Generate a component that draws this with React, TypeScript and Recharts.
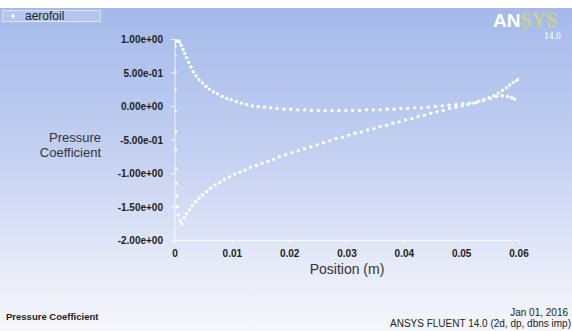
import React from 'react';
import { ScatterChart, Scatter, XAxis, YAxis, ZAxis } from 'recharts';

// Branch running from the stagnation point along the upper curve (pressure side)
const branchAPos = [
  0.0001, 0.0003, 0.0005, 0.0008, 0.0011, 0.0014, 0.0017, 0.0020, 0.0024, 0.0028,
  0.0032, 0.0037, 0.0042, 0.0048, 0.0054, 0.0060, 0.0067, 0.0074, 0.0082, 0.0090,
  0.0098, 0.0107, 0.0116, 0.0125, 0.0135, 0.0145, 0.0156, 0.0167, 0.0178, 0.0190,
  0.0202, 0.0214, 0.0226, 0.0238, 0.0250, 0.0262, 0.0274, 0.0286, 0.0298, 0.0310,
  0.0322, 0.0334, 0.0346, 0.0358, 0.0370, 0.0382, 0.0394, 0.0406, 0.0418, 0.0430,
  0.0442, 0.0454, 0.0466, 0.0478, 0.0490, 0.0502, 0.0514, 0.0526, 0.0538, 0.0550,
  0.0561, 0.0571, 0.0580, 0.0587, 0.0592,
];
const branchACp = [
  0.97, 0.99, 0.99, 0.96, 0.91, 0.85, 0.79, 0.73, 0.66, 0.59,
  0.52, 0.46, 0.40, 0.35, 0.30, 0.26, 0.22, 0.19, 0.15, 0.12,
  0.10, 0.07, 0.05, 0.03, 0.01, 0.00, -0.01, -0.02, -0.03, -0.04,
  -0.04, -0.05, -0.05, -0.06, -0.06, -0.06, -0.06, -0.06, -0.06, -0.06,
  -0.06, -0.05, -0.05, -0.05, -0.04, -0.04, -0.03, -0.03, -0.02, -0.02,
  -0.01, 0.00, 0.01, 0.02, 0.03, 0.04, 0.05, 0.06, 0.09, 0.12,
  0.15, 0.16, 0.15, 0.13, 0.11,
];

// Branch running from the stagnation point down to the suction peak and back up
const branchBPos = [
  0.0000, 0.0000, 0.0000, 0.0000, 0.0000, 0.0001, 0.0001, 0.0001, 0.0002, 0.0003,
  0.0004, 0.0006, 0.0009, 0.0012, 0.0016, 0.0020, 0.0025, 0.0030, 0.0036, 0.0042,
  0.0048, 0.0055, 0.0062, 0.0070, 0.0078, 0.0086, 0.0095, 0.0104, 0.0113, 0.0122,
  0.0132, 0.0142, 0.0152, 0.0162, 0.0172, 0.0182, 0.0193, 0.0204, 0.0215, 0.0226,
  0.0237, 0.0248, 0.0259, 0.0270, 0.0281, 0.0292, 0.0303, 0.0314, 0.0325, 0.0336,
  0.0347, 0.0358, 0.0369, 0.0380, 0.0391, 0.0402, 0.0413, 0.0424, 0.0435, 0.0446,
  0.0457, 0.0468, 0.0479, 0.0490, 0.0501, 0.0511, 0.0521, 0.0530, 0.0539, 0.0548,
  0.0556, 0.0564, 0.0571, 0.0578, 0.0584, 0.0590, 0.0596, 0.0600,
];
const branchBCp = [
  0.90, 0.76, 0.52, 0.25, -0.06, -0.37, -0.64, -0.93, -1.15, -1.33,
  -1.50, -1.62, -1.71, -1.75, -1.66, -1.60, -1.54, -1.48, -1.42, -1.37,
  -1.32, -1.27, -1.22, -1.17, -1.13, -1.09, -1.05, -1.01, -0.98, -0.95,
  -0.91, -0.88, -0.85, -0.82, -0.79, -0.75, -0.72, -0.69, -0.66, -0.63,
  -0.60, -0.57, -0.54, -0.51, -0.48, -0.46, -0.43, -0.40, -0.38, -0.35,
  -0.33, -0.30, -0.28, -0.25, -0.23, -0.20, -0.18, -0.15, -0.13, -0.10,
  -0.08, -0.06, -0.03, -0.01, 0.01, 0.03, 0.05, 0.08, 0.10, 0.13,
  0.16, 0.20, 0.24, 0.28, 0.32, 0.36, 0.39, 0.41,
];

const xTicks = [0, 0.01, 0.02, 0.03, 0.04, 0.05, 0.06];
const xTickLabels = ['0', '0.01', '0.02', '0.03', '0.04', '0.05', '0.06'];
const yTicks = [-2, -1.5, -1, -0.5, 0, 0.5, 1];
const yTickLabels = ['-2.00e+00', '-1.50e+00', '-1.00e+00', '-5.00e-01', '0.00e+00', '5.00e-01', '1.00e+00'];

const seriesName = 'aerofoil';

const data = [
  ...branchAPos.map((x, i) => ({ x, y: branchACp[i] })),
  ...branchBPos.map((x, i) => ({ x, y: branchBCp[i] })),
];

const FONT = '"Liberation Sans", Arial, sans-serif';
const SERIF = '"Liberation Serif", "Times New Roman", serif';
const axisStroke = 'rgba(255,255,255,0.75)';

const Dot = (props: any) => {
  const { cx, cy } = props;
  if (cx == null || cy == null) return null;
  return <circle cx={cx} cy={cy} r={1.7} fill="#ffffff" />;
};

export default function App() {
  return (
    <div
      style={{
        position: 'absolute',
        left: 0,
        top: 0,
        width: 572,
        height: 331,
        overflow: 'hidden',
        background: '#ffffff',
        fontFamily: FONT,
      }}
    >
      <div
        style={{
          position: 'absolute',
          left: 0,
          top: 8,
          width: 572,
          height: 323,
          background: 'linear-gradient(to bottom, #a5baea 0%, #c3d0f1 45%, #e6ebf8 80%, #f6f7fc 100%)',
        }}
      />
      <div style={{ position: 'absolute', left: 0, top: 0 }}>
        <ScatterChart
          width={572}
          height={331}
          margin={{ top: 39.5, right: 53, bottom: 60.5, left: 0 }}
        >
          <XAxis
            type="number"
            dataKey="x"
            domain={[0, 0.06]}
            ticks={xTicks}
            allowDataOverflow
            height={30}
            tickSize={4}
            tickMargin={5}
            stroke={axisStroke}
            tickLine={{ stroke: axisStroke }}
            axisLine={{ stroke: axisStroke }}
            tick={{ fill: '#222', fontSize: 10, fontWeight: 'bold', fontFamily: FONT }}
            tickFormatter={(v: number) => {
              const i = xTicks.findIndex((t) => Math.abs(t - v) < 1e-9);
              return i >= 0 ? xTickLabels[i] : String(v);
            }}
          />
          <YAxis
            type="number"
            dataKey="y"
            domain={[-2, 1]}
            ticks={yTicks}
            allowDataOverflow
            width={175}
            tickSize={4}
            tickMargin={8}
            stroke={axisStroke}
            tickLine={{ stroke: axisStroke }}
            axisLine={{ stroke: axisStroke }}
            tick={{ fill: '#222', fontSize: 10, fontWeight: 'bold', fontFamily: FONT }}
            tickFormatter={(v: number) => {
              const i = yTicks.findIndex((t) => Math.abs(t - v) < 1e-9);
              return i >= 0 ? yTickLabels[i] : String(v);
            }}
          />
          <ZAxis range={[10, 10]} />
          <Scatter name={seriesName} data={data} shape={Dot} isAnimationActive={false} />
        </ScatterChart>
      </div>
      <svg
        width={572}
        height={331}
        style={{ position: 'absolute', left: 0, top: 0, pointerEvents: 'none' }}
      >
        {/* legend */}
        <rect x={2.5} y={10.5} width={98} height={11} fill="rgba(190,205,240,0.6)" stroke="rgba(225,232,250,0.9)" strokeWidth={1} />
        <circle cx={13} cy={16} r={1.7} fill="#fff" />
        <text x={25} y={20} fontSize={12} fill="#222" fontFamily={FONT}>{seriesName}</text>
        {/* logo */}
        <text x={493} y={27} fontSize={19} fontWeight="bold" fill="#ffffff" fontFamily={FONT}>
          AN<tspan fill="#dcd85c" fontFamily={SERIF} fontWeight="normal" fontSize={20}>SYS</tspan>
        </text>
        <text x={544} y={39} fontSize={9.5} fill="#ffffff" fontFamily={SERIF}>14.0</text>
        {/* y label */}
        <text x={101} y={142} fontSize={13} fill="#333" textAnchor="end" fontFamily={FONT}>Pressure</text>
        <text x={101} y={157} fontSize={13} fill="#333" textAnchor="end" fontFamily={FONT}>Coefficient</text>
        {/* x label */}
        <text x={347} y={274} fontSize={14} fill="#333" textAnchor="middle" fontFamily={FONT}>Position (m)</text>
        {/* footer */}
        <text x={6} y={320} fontSize={9.5} fontWeight="bold" fill="#222" fontFamily={FONT}>Pressure Coefficient</text>
        <text x={568} y={316} fontSize={10} fill="#222" textAnchor="end" fontFamily={FONT}>Jan 01, 2016</text>
        <text x={571} y={327} fontSize={10} fill="#222" textAnchor="end" fontFamily={FONT}>ANSYS FLUENT 14.0 (2d, dp, dbns imp)</text>
      </svg>
    </div>
  );
}
